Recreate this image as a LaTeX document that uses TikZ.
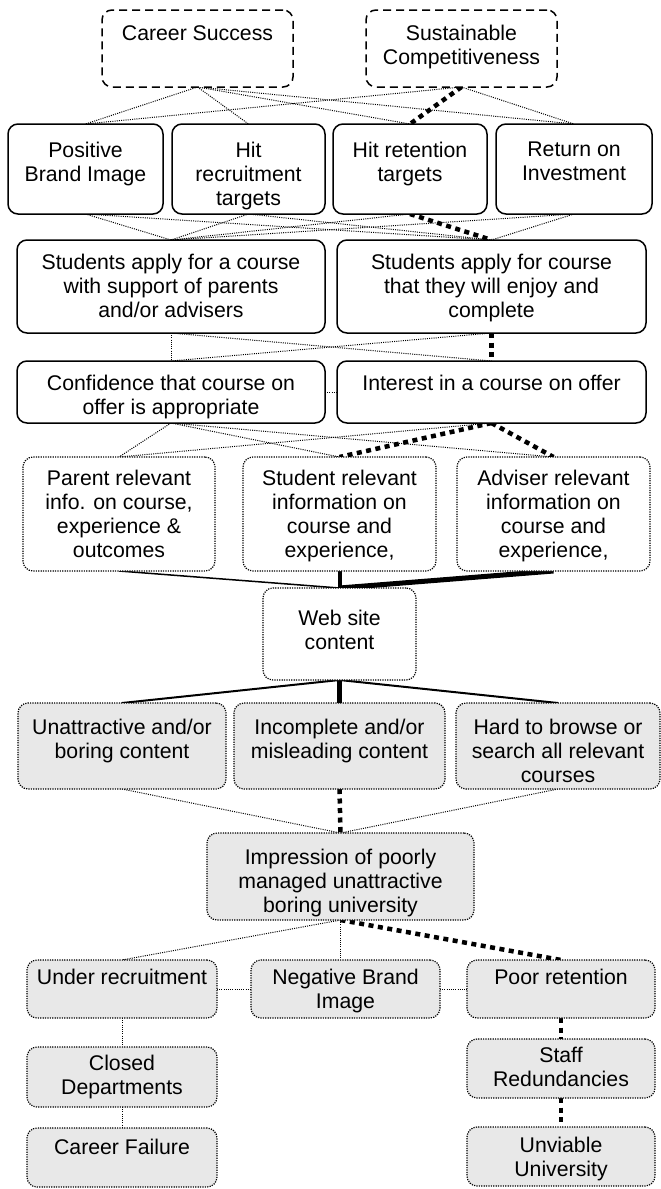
\documentclass[tikz,border=0pt]{standalone}
\usepackage{fontspec}
\setmainfont{Liberation Sans}
\usetikzlibrary{backgrounds}
\definecolor{boxgray}{RGB}{232,232,232}
\newcommand\bx[8]{%
  \node[#1, anchor=north west, outer sep=0pt, inner sep=0pt,
        minimum width={(#5-#3)*1pt}, minimum height={(#6-#4)*1pt}] (#2) at (#3,#4) {};
  \node[txt, anchor=north] (#2t) at ({(#3+#5)/2},{#7-8}) {#8};}
\begin{document}
\begin{tikzpicture}[x=1pt,y=-1pt,
  txt/.style={font=\fontsize{21.25}{24}\selectfont, align=center, inner sep=0pt,
              execute at begin node={\rule{0pt}{15.7pt}}},
  solidbox/.style={draw, line width=1.5pt, rounded corners=10pt, fill=white},
  dashbox/.style={draw, line width=1.5pt, dash pattern=on 8pt off 5pt, rounded corners=10pt, fill=white},
  dotbox/.style={draw, line width=1.2pt, dash pattern=on 1.2pt off 1.2pt, rounded corners=10pt, fill=white},
  graybox/.style={dotbox, fill=boxgray},
  thinlink/.style={line width=1pt, dash pattern=on 1pt off 1.2pt},
  thicklink/.style={line width=4.5pt, dash pattern=on 5pt off 4.5pt},
  sollink/.style={line width=#1},
]
\useasboundingbox (0,0) rectangle (661,1189);

\bx{dashbox}{cs}{102}{10}{293}{87}{33}{Career Success}
\bx{dashbox}{sc}{366}{10}{557}{87}{33}{Sustainable\\Competitiveness}
\bx{solidbox}{pbi}{8}{124}{163}{214}{150}{Positive\\Brand Image}
\bx{solidbox}{hrec}{172}{124}{325}{214}{150}{Hit\\recruitment\\targets}
\bx{solidbox}{hret}{333}{124}{487}{214}{150}{Hit retention\\targets}
\bx{solidbox}{roi}{496}{124}{652}{214}{150}{Return on\\Investment}
\bx{solidbox}{sal}{17}{240}{325}{333}{262}{Students apply for a course\\with support of parents\\and/or advisers}
\bx{solidbox}{sar}{337}{240}{646}{333}{262}{Students apply for course\\that they will enjoy and\\complete}
\bx{solidbox}{conf}{17}{361}{325}{423}{383}{Confidence that course on\\offer is appropriate}
\bx{solidbox}{intr}{337}{361}{646}{423}{383}{Interest in a course on offer}
\bx{dotbox}{par}{23}{457}{215}{571}{478}{Parent relevant\\info. on course,\\experience \&\\outcomes}
\bx{dotbox}{stu}{243}{457}{436}{571}{478}{Student relevant\\information on\\course and\\experience,}
\bx{dotbox}{adv}{457}{457}{650}{571}{478}{Adviser relevant\\information on\\course and\\experience,}
\bx{dotbox}{web}{263}{588}{416}{680}{618}{Web site\\content}
\bx{graybox}{una}{18}{703}{226}{789}{727}{Unattractive and/or\\boring content}
\bx{graybox}{inc}{234}{703}{445}{789}{727}{Incomplete and/or\\misleading content}
\bx{graybox}{hard}{456}{703}{660}{789}{727}{Hard to browse or\\search all relevant\\courses}
\bx{graybox}{imp}{207}{833}{474}{920}{857}{Impression of poorly\\managed unattractive\\boring university}
\bx{graybox}{ur}{27}{960}{217}{1018}{977}{Under recruitment}
\bx{graybox}{nbi}{251}{960}{440}{1018}{977}{Negative Brand\\Image}
\bx{graybox}{pr}{467}{960}{655}{1018}{977}{Poor retention}
\bx{graybox}{cd}{27}{1047}{217}{1107}{1063}{Closed\\Departments}
\bx{graybox}{sr}{467}{1039}{655}{1098}{1055}{Staff\\Redundancies}
\bx{graybox}{cf}{27}{1128}{217}{1187}{1147}{Career Failure}
\bx{graybox}{uu}{467}{1127}{655}{1186}{1145}{Unviable\\University}

\begin{pgfonlayer}{background}
% row 1 - row 2
\draw[thinlink] (cs.south) -- (pbi.north);
\draw[thinlink] (cs.south) -- (hrec.north);
\draw[thinlink] (cs.south) -- (hret.north);
\draw[thinlink] (cs.south) -- (roi.north);
\draw[thinlink] (sc.south) -- (pbi.north);
\draw[thinlink] (sc.south) -- (roi.north);
\draw[thicklink] (sc.south) -- (hret.north);
% row 2 - row 3
\draw[thinlink] (pbi.south) -- (sal.north);
\draw[thinlink] (hrec.south) -- (sal.north);
\draw[thinlink] (hret.south) -- (sal.north);
\draw[thinlink] (roi.south) -- (sal.north);
\draw[thinlink] (pbi.south) -- (sar.north);
\draw[thinlink] (hrec.south) -- (sar.north);
\draw[thinlink] (roi.south) -- (sar.north);
\draw[thicklink] (hret.south) -- (sar.north);
% row 3 - row 4
\draw[thinlink] (sal.south) -- (conf.north);
\draw[thinlink] (sal.south) -- (intr.north);
\draw[thinlink] (sar.south) -- (conf.north);
\draw[thicklink] (sar.south) -- (intr.north);
\draw[thinlink] (conf.east) -- (intr.west);
% row 4 - row 5
\draw[thinlink] (conf.south) -- (par.north);
\draw[thinlink] (conf.south) -- (stu.north);
\draw[thinlink] (conf.south) -- (adv.north);
\draw[thinlink] (intr.south) -- (par.north);
\draw[thicklink] (intr.south) -- (stu.north);
\draw[thicklink] (intr.south) -- (adv.north);
% row 5 - web
\draw[sollink=1.5pt] (par.south) -- (web.north);
\draw[sollink=4pt] (stu.south) -- (web.north);
\draw[sollink=5pt] (adv.south) -- (web.north);
% web - row 7
\draw[sollink=2pt] (web.south) -- (una.north);
\draw[sollink=4.5pt] (web.south) -- (inc.north);
\draw[sollink=2pt] (web.south) -- (hard.north);
% row 7 - impression
\draw[thinlink] (una.south) -- (imp.north);
\draw[thicklink] (inc.south) -- (imp.north);
\draw[thinlink] (hard.south) -- (imp.north);
% impression - row 9
\draw[thinlink] (imp.south) -- (ur.north);
\draw[thinlink] (imp.south) -- (imp.south |- nbi.north);
\draw[thicklink] (imp.south) -- (pr.north);
\draw[thinlink] (ur.east) -- (nbi.west);
\draw[thinlink] (nbi.east) -- (pr.west);
% lower chains
\draw[thinlink] (ur.south) -- (cd.north);
\draw[thinlink] (cd.south) -- (cf.north);
\draw[thicklink] (pr.south) -- (sr.north);
\draw[thicklink] (sr.south) -- (uu.north);
\end{pgfonlayer}
\end{tikzpicture}
\end{document}
